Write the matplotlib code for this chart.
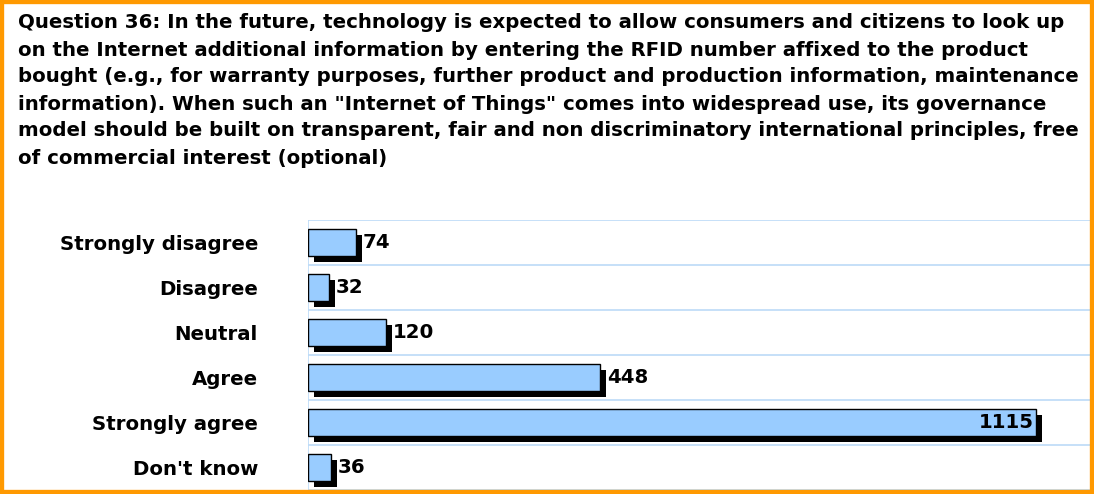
import matplotlib
matplotlib.use("Agg")
import matplotlib.pyplot as plt
import matplotlib.transforms as mtransforms
from matplotlib.patches import Rectangle

# Survey answers for question 36
categories = ["Strongly disagree", "Disagree", "Neutral", "Agree", "Strongly agree", "Don't know"]
counts = [74, 32, 120, 448, 1115, 36]

title_lines = [
    "Question 36: In the future, technology is expected to allow consumers and citizens to look up",
    "on the Internet additional information by entering the RFID number affixed to the product",
    "bought (e.g., for warranty purposes, further product and production information, maintenance",
    "information). When such an \"Internet of Things\" comes into widespread use, its governance",
    "model should be built on transparent, fair and non discriminatory international principles, free",
    "of commercial interest (optional)",
]

W, H = 1094, 494
fig = plt.figure(figsize=(W / 100, H / 100), dpi=100)
plt.rcParams['font.family'] = ['DejaVu Sans']

bar_color = "#99CCFF"
grid_color = "#BCDAF7"
fsize = 14.2

# plot area in pixels
left, right, top, bottom = 308, 1090, 220, 490
ax = fig.add_axes([left / W, (H - bottom) / H, (right - left) / W, (bottom - top) / H])
ax.set_xlim(0, 1198)
ax.set_ylim(len(categories) - 0.5, -0.5)

ypos = list(range(len(categories)))
for y in [p - 0.5 for p in ypos] + [len(categories) - 0.5]:
    ax.axhline(y, color=grid_color, lw=1.2, zorder=0)
ax.axvline(0, color=grid_color, lw=1.2, zorder=0)

# drop shadow offset a few pixels right and down
shadow = mtransforms.offset_copy(ax.transData, fig=fig, x=6, y=-6, units='dots')
ax.barh(ypos, counts, height=0.6, color="black", transform=shadow, zorder=2)
ax.barh(ypos, counts, height=0.6, color=bar_color, edgecolor="black", lw=1.0, zorder=3)

for y, v in zip(ypos, counts):
    if v > 1000:
        ax.text(v - 3, y, str(v), ha="right", va="center", fontsize=fsize,
                fontweight="bold", zorder=4)
    else:
        ax.text(v + 10, y, str(v), ha="left", va="center", fontsize=fsize,
                fontweight="bold", zorder=4)

ax.set_yticks(ypos)
ax.set_yticklabels(categories, fontsize=fsize, fontweight="bold")
ax.tick_params(axis="y", length=0, pad=36)
ax.set_xticks([])
for s in ax.spines.values():
    s.set_visible(False)

for i, line in enumerate(title_lines):
    fig.text(18 / W, 1 - (23 + 27 * i) / H, line, ha="left", va="center",
             fontsize=fsize, fontweight="bold")

# orange frame
fig.patches.append(Rectangle((0, 0), 1, 1, transform=fig.transFigure, fill=False,
                             edgecolor="#FF9900", lw=6, zorder=10))

fig.savefig("out.png", dpi=100)
